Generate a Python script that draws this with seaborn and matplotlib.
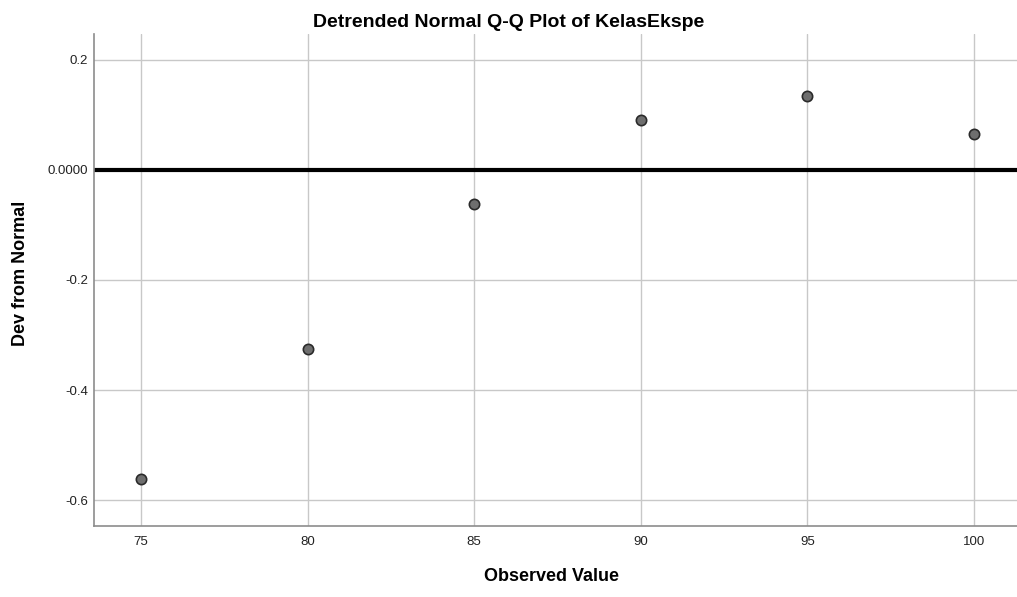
import matplotlib
matplotlib.use('Agg')
import matplotlib.pyplot as plt
import seaborn as sns
import pandas as pd

# values
observed = [75, 80, 85, 90, 95, 100]
deviation = [-0.561, -0.3245, -0.0627, 0.0905, 0.1336, 0.0645]
x_ticks = [75, 80, 85, 90, 95, 100]
y_ticks = [0.2, 0.0, -0.2, -0.4, -0.6]
y_tick_labels = ['0.2', '0.0000', '-0.2', '-0.4', '-0.6']

df = pd.DataFrame({'observed': observed, 'deviation': deviation})

sns.set_style('white')
plt.rcParams['font.family'] = ['Liberation Sans', 'DejaVu Sans']
plt.rcParams['text.color'] = 'black'
plt.rcParams['axes.labelcolor'] = 'black'

fig = plt.figure(figsize=(10.17, 5.97), dpi=100)
ax = fig.add_axes([94 / 1017, 71 / 597, 1 - 94 / 1017, (526 - 34) / 597])

ax.set_xlim(73.59, 101.29)
ax.set_ylim(-0.647, 0.247)
ax.set_xticks(x_ticks)
ax.set_yticks(y_ticks)
ax.set_yticklabels(y_tick_labels)
ax.grid(True, color='#c8c8c8', linewidth=1)
ax.set_axisbelow(True)

ax.axhline(0, color='black', linewidth=3, zorder=2)

sns.scatterplot(data=df, x='observed', y='deviation', ax=ax, s=55,
                color='#6e6e6e', edgecolor='#2a2a2a', linewidth=1.2, zorder=3)

for side in ['top', 'right']:
    ax.spines[side].set_visible(False)
for side in ['left', 'bottom']:
    ax.spines[side].set_color('#8c8c8c')
    ax.spines[side].set_linewidth(1.2)

ax.tick_params(axis='both', length=0, labelsize=9.5, colors='#222222')
ax.tick_params(axis='x', pad=7)
ax.tick_params(axis='y', pad=4.5)

# SPSS centres the title on the whole figure
fig.text(0.5, (597 - 27) / 597, 'Detrended Normal Q-Q Plot of KelasEkspe',
         fontsize=14, fontweight='bold', ha='center', va='baseline')
ax.set_xlabel('Observed Value', fontsize=13, fontweight='bold')
ax.set_ylabel('Dev from Normal', fontsize=13, fontweight='bold')
ax.xaxis.set_label_coords(0.4957, -0.0854)
ax.yaxis.set_label_coords(-0.0706, 0.513)

fig.savefig('out.png', dpi=100)
